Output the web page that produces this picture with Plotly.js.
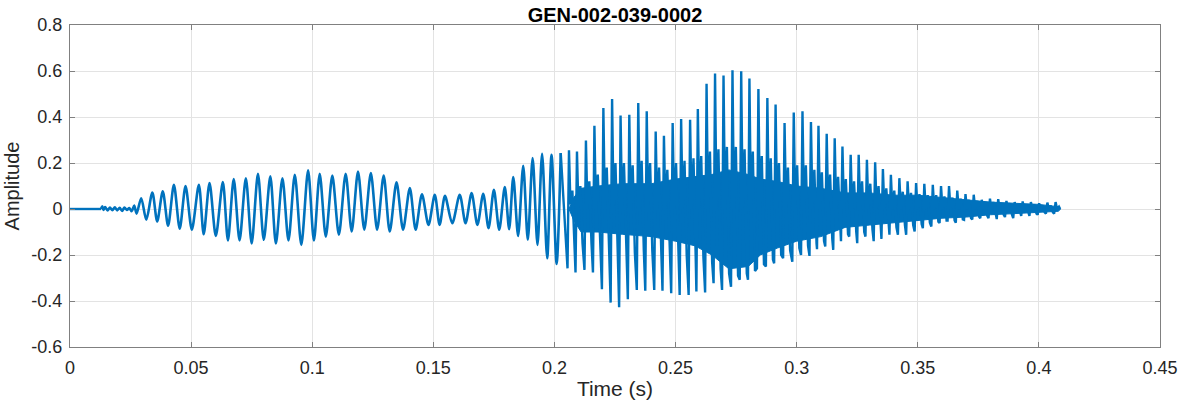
<!DOCTYPE html>
<html>
<head>
<meta charset="utf-8">
<script src="https://cdn.plot.ly/plotly-3.0.1.min.js"></script>
<style>html,body{margin:0;padding:0;background:#fff}#chart{width:1182px;height:404px}</style>
</head>
<body>
<div id="chart"></div>
<script>
const chartTitle = 'GEN-002-039-0002';
const xLabel = 'Time (s)';
const yLabel = 'Amplitude';
const xTickVals = [0, 0.05, 0.1, 0.15, 0.2, 0.25, 0.3, 0.35, 0.4, 0.45];
const xTickText = ['0', '0.05', '0.1', '0.15', '0.2', '0.25', '0.3', '0.35', '0.4', '0.45'];
const yTickVals = [-0.6, -0.4, -0.2, 0, 0.2, 0.4, 0.6, 0.8];
const yTickText = ['-0.6', '-0.4', '-0.2', '0', '0.2', '0.4', '0.6', '0.8'];

// leading silence (ms, amplitude)
const silenceT = [0, 4, 8, 12.8];
const silenceA = [0, 0, 0, 0];

// first (lower-pitched) part: extrema, time in ms
const onsetT = [12.8, 13.3, 13.8, 14.5, 15.5, 16.5, 17.5, 18.5, 19.5, 20.5, 21.5, 22.5, 23.5, 24.5, 25.5, 26.5, 27.5,
  29.4, 31.5, 34.0, 36.0, 38.3, 40.5, 42.9, 45.3, 47.7, 50.3, 53.2, 55.2, 57.6, 60.2, 63.1, 65.2, 67.6, 70.0,
  72.6, 75.0, 77.6, 80.0, 82.7, 85.0, 87.7, 90.2, 92.8, 95.5, 98.3, 100.7, 103.1, 105.6, 108.3, 111.0, 113.8, 116.3,
  118.9, 121.5, 124.2, 126.8, 129.5, 132.0, 134.8, 137.5, 140.3, 142.7, 145.3, 148.0, 150.6, 152.6, 154.8, 157.8,
  160.9, 163.3, 165.8, 168.2, 170.6, 172.8, 175.0, 177.2, 179.5, 181.3, 183.0, 185.0, 187.1, 189.0, 191.0, 193.0,
  194.9, 197.0, 198.8, 200.9, 202.6];
const onsetA = [0, 0.012, -0.004, 0.008, -0.006, 0.006, -0.005, 0.007, -0.006, 0.005, -0.008, 0.006, -0.004, 0.004, -0.01, 0.015, -0.02,
  0.047, -0.047, 0.072, -0.054, 0.077, -0.073, 0.105, -0.086, 0.10, -0.09, 0.105, -0.11, 0.113, -0.117, 0.117, -0.137, 0.13, -0.137,
  0.134, -0.15, 0.153, -0.134, 0.142, -0.15, 0.134, -0.137, 0.149, -0.156, 0.168, -0.137, 0.153, -0.12, 0.145, -0.112, 0.153, -0.098,
  0.163, -0.09, 0.156, -0.09, 0.145, -0.098, 0.116, -0.09, 0.091, -0.09, 0.064, -0.069, 0.062, -0.069, 0.057, -0.062,
  0.062, -0.062, 0.069, -0.069, 0.066, -0.083, 0.083, -0.09, 0.095, -0.088, 0.139, -0.117, 0.188, -0.134, 0.221, -0.156,
  0.24, -0.214, 0.236, -0.239, 0.243];

// second (higher-pitched) part: per pitch period trough, spike, dip, echo peak, echo trough (ms)
const voicedT = [
  205.4, 206.0, 206.6, 207.4, 208.3,
  208.7, 209.3, 209.9, 210.7, 211.6,
  212.4, 213.0, 213.6, 214.4, 215.3,
  215.9, 216.5, 217.1, 217.9, 218.8,
  219.6, 220.2, 220.8, 221.6, 222.5,
  223.2, 223.8, 224.4, 225.2, 226.1,
  226.7, 227.3, 227.9, 228.7, 229.6,
  230.3, 230.9, 231.5, 232.3, 233.2,
  234.0, 234.6, 235.2, 236.0, 236.9,
  237.5, 238.1, 238.7, 239.5, 240.4,
  241.2, 241.8, 242.4, 243.2, 244.1,
  244.6, 245.2, 245.8, 246.6, 247.5,
  248.2, 248.8, 249.4, 250.2, 251.1,
  251.7, 252.3, 252.9, 253.7, 254.6,
  255.4, 256.0, 256.6, 257.4, 258.3,
  258.6, 259.2, 259.8, 260.6, 261.5,
  262.2, 262.8, 263.4, 264.2, 265.1,
  265.7, 266.3, 266.9, 267.7, 268.6,
  269.2, 269.8, 270.4, 271.2, 272.1,
  272.9, 273.5, 274.1, 274.9, 275.8,
  276.5, 277.1, 277.7, 278.5, 279.4,
  279.9, 280.5, 281.1, 281.9, 282.8,
  283.6, 284.2, 284.8, 285.6, 286.5,
  287.3, 287.9, 288.5, 289.3, 290.2,
  290.7, 291.3, 291.9, 292.7, 293.6,
  294.4, 295.0, 295.6, 296.4, 297.3,
  298.2, 298.8, 299.4, 300.2, 301.1,
  301.8, 302.4, 303.0, 303.8, 304.7,
  305.3, 305.9, 306.5, 307.3, 308.2,
  308.4, 309.0, 309.6, 310.4, 311.3,
  311.8, 312.4, 313.0, 313.8, 314.7,
  315.1, 315.7, 316.3, 317.1, 318.0,
  318.3, 318.9, 319.5, 320.3, 321.2,
  321.7, 322.3, 322.9, 323.7, 324.6,
  325.0, 325.6, 326.2, 327.0, 327.9,
  328.4, 329.0, 329.6, 330.4, 331.3,
  331.8, 332.4, 333.0, 333.8, 334.7,
  335.0, 335.6, 336.2, 337.0, 337.9,
  338.3, 338.9, 339.5, 340.3, 341.2,
  341.8, 342.4, 343.0, 343.8, 344.7,
  345.2, 345.8, 346.4, 347.2, 348.1,
  348.7, 349.3, 349.9, 350.7, 351.6,
  352.1, 352.7, 353.3, 354.1, 355.0,
  355.6, 356.2, 356.8, 357.6, 358.5,
  359.0, 359.6, 360.2, 361.0, 361.9,
  362.3, 362.9, 363.5, 364.3, 365.2,
  365.7, 366.3, 366.9, 367.7, 368.6,
  369.1, 369.7, 370.3, 371.1, 372.0,
  372.5, 373.1, 373.7, 374.5, 375.4,
  375.8, 376.4, 377.0, 377.8, 378.7,
  379.2, 379.8, 380.4, 381.2, 382.1,
  382.6, 383.2, 383.8, 384.6, 385.5,
  386.0, 386.6, 387.2, 388.0, 388.9,
  389.4, 390.0, 390.6, 391.4, 392.3,
  392.7, 393.3, 393.9, 394.7, 395.6,
  396.1, 396.7, 397.3, 398.1, 399.0,
  399.5, 400.1, 400.7, 401.5, 402.4,
  402.9, 403.5, 404.1, 404.9, 405.8,
  406.3, 406.9, 407.5, 408.3, 408.8];
const voicedA = [
  -0.258, 0.255, 0.02, 0.08, -0.14,
  -0.276, 0.25, 0.0, 0.10, -0.15,
  -0.265, 0.298, 0.0, 0.12, -0.15,
  -0.276, 0.362, 0.0, 0.15, -0.16,
  -0.349, 0.439, 0.0, 0.18, -0.18,
  -0.407, 0.478, 0.0, 0.20, -0.20,
  -0.427, 0.406, 0.0, 0.20, -0.20,
  -0.392, 0.41, 0.0, 0.19, -0.19,
  -0.352, 0.461, 0.0, 0.21, -0.18,
  -0.355, 0.425, 0.0, 0.20, -0.18,
  -0.352, 0.337, 0.0, 0.18, -0.18,
  -0.355, 0.318, 0.0, 0.17, -0.18,
  -0.366, 0.374, 0.0, 0.20, -0.19,
  -0.374, 0.391, 0.0, 0.21, -0.20,
  -0.374, 0.388, 0.0, 0.22, -0.20,
  -0.359, 0.435, 0.0, 0.23, -0.21,
  -0.363, 0.545, 0.0, 0.25, -0.23,
  -0.323, 0.589, 0.0, 0.26, -0.26,
  -0.352, 0.58, 0.0, 0.27, -0.28,
  -0.338, 0.603, 0.0, 0.27, -0.29,
  -0.308, 0.599, 0.0, 0.26, -0.28,
  -0.308, 0.567, 0.0, 0.25, -0.27,
  -0.258, 0.522, 0.0, 0.23, -0.24,
  -0.25, 0.483, 0.0, 0.22, -0.22,
  -0.236, 0.454, 0.0, 0.20, -0.20,
  -0.214, 0.374, 0.0, 0.18, -0.18,
  -0.229, 0.42, 0.0, 0.19, -0.17,
  -0.20, 0.425, 0.0, 0.19, -0.16,
  -0.204, 0.378, 0.0, 0.17, -0.15,
  -0.175, 0.362, 0.0, 0.16, -0.14,
  -0.163, 0.327, 0.0, 0.15, -0.13,
  -0.178, 0.308, 0.0, 0.14, -0.12,
  -0.14, 0.272, 0.0, 0.13, -0.11,
  -0.12, 0.236, 0.0, 0.12, -0.10,
  -0.149, 0.236, 0.0, 0.12, -0.10,
  -0.12, 0.214, 0.0, 0.11, -0.09,
  -0.14, 0.203, 0.0, 0.10, -0.09,
  -0.13, 0.174, 0.0, 0.09, -0.08,
  -0.112, 0.149, 0.0, 0.08, -0.08,
  -0.112, 0.134, 0.0, 0.075, -0.07,
  -0.112, 0.12, 0.0, 0.07, -0.07,
  -0.098, 0.113, 0.0, 0.065, -0.065,
  -0.083, 0.11, 0.0, 0.06, -0.06,
  -0.076, 0.105, 0.0, 0.06, -0.055,
  -0.061, 0.10, 0.0, 0.055, -0.05,
  -0.05, 0.10, 0.0, 0.05, -0.05,
  -0.06, 0.08, 0.0, 0.045, -0.045,
  -0.047, 0.065, 0.0, 0.04, -0.04,
  -0.045, 0.062, 0.0, 0.035, -0.035,
  -0.04, 0.04, 0.0, 0.03, -0.03,
  -0.04, 0.045, 0.0, 0.03, -0.03,
  -0.044, 0.043, 0.0, 0.025, -0.025,
  -0.035, 0.035, 0.0, 0.025, -0.025,
  -0.04, 0.03, 0.0, 0.02, -0.02,
  -0.03, 0.033, 0.0, 0.02, -0.02,
  -0.03, 0.03, 0.0, 0.02, -0.02,
  -0.025, 0.025, 0.0, 0.015, -0.015,
  -0.02, 0.028, 0.0, 0.015, -0.015,
  -0.02, 0.03, 0.0, 0.01, 0.0];

// dense high-frequency core of the second part: upper / lower envelope (ms)
const coreT  = [206, 208, 211, 218, 228, 240, 250, 258, 265, 272, 280, 285, 292, 300, 310, 320, 330, 340, 350, 360, 370, 380, 390, 400, 408, 409];
const coreHi = [0, 0.05, 0.09, 0.10, 0.11, 0.11, 0.13, 0.14, 0.15, 0.17, 0.15, 0.13, 0.12, 0.10, 0.09, 0.07, 0.07, 0.06, 0.06, 0.05, 0.04, 0.03, 0.025, 0.02, 0.01, 0];
const coreLo = [0, -0.05, -0.10, -0.10, -0.11, -0.12, -0.14, -0.16, -0.20, -0.26, -0.25, -0.20, -0.17, -0.14, -0.12, -0.08, -0.07, -0.06, -0.05, -0.04, -0.035, -0.025, -0.02, -0.015, -0.01, 0];

const blue = '#0072BD';
const FONT = 'Liberation Sans, Arial, sans-serif';
const toSec = a => a.map(v => v / 1000);
const lastOnsetT = onsetT[onsetT.length - 1];
const lastOnsetA = onsetA[onsetA.length - 1];

const traces = [
  {x: toSec(coreT), y: coreLo, mode: 'lines', line: {color: blue, width: 1}, hoverinfo: 'skip', showlegend: false},
  {x: toSec(coreT), y: coreHi, mode: 'lines', fill: 'tonexty', fillcolor: blue, line: {color: blue, width: 1}, hoverinfo: 'skip', showlegend: false},
  {x: toSec(silenceT), y: silenceA, mode: 'lines', line: {color: blue, width: 2.4}, showlegend: false},
  {x: toSec(onsetT), y: onsetA, mode: 'lines', line: {color: blue, width: 2.6, shape: 'spline', smoothing: 0.8}, showlegend: false},
  {x: toSec([lastOnsetT].concat(voicedT)), y: [lastOnsetA].concat(voicedA), mode: 'lines', line: {color: blue, width: 2.4}, showlegend: false}
];

const axisCommon = {
  showline: true, linecolor: '#808080', linewidth: 1, mirror: 'ticks',
  ticks: 'inside', ticklen: 5, tickcolor: '#808080', tickwidth: 1,
  showgrid: true, gridcolor: '#e3e3e3', gridwidth: 1, zeroline: false,
  tickfont: {family: FONT, size: 18, color: '#262626'},
  tickmode: 'array'
};

const layout = {
  width: 1182, height: 404,
  margin: {l: 70, r: 22, t: 25, b: 57},
  paper_bgcolor: '#ffffff', plot_bgcolor: '#ffffff',
  title: {text: '<b>' + chartTitle + '</b>', font: {family: FONT, size: 20, color: '#000000'},
          x: 0.5, xanchor: 'center', xref: 'paper', y: 0.962, yanchor: 'middle', yref: 'container'},
  xaxis: Object.assign({}, axisCommon, {range: [0, 0.45], tickvals: xTickVals, ticktext: xTickText, ticklabelstandoff: 4,
    title: {text: xLabel, standoff: 4, font: {family: FONT, size: 21, color: '#262626'}}}),
  yaxis: Object.assign({}, axisCommon, {range: [-0.6, 0.8], tickvals: yTickVals, ticktext: yTickText, ticklabelstandoff: 3,
    title: {text: yLabel, standoff: 6, font: {family: FONT, size: 20, color: '#262626'}}})
};

Plotly.newPlot('chart', traces, layout, {staticPlot: true, displayModeBar: false});
</script>
</body>
</html>
